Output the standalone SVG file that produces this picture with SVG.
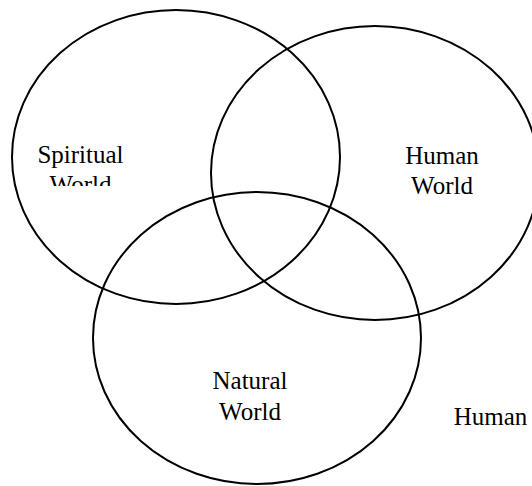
<svg xmlns="http://www.w3.org/2000/svg" width="532" height="486" viewBox="0 0 532 486">
<style>
.c{fill:none;stroke:#000;stroke-width:2}
.t{font-family:"Liberation Serif","Times New Roman",serif;font-size:25px;fill:#000;text-anchor:middle}
</style>
<defs>
<clipPath id="clipSp"><rect x="0" y="0" width="532" height="186"/></clipPath>
</defs>
<rect width="532" height="486" fill="#fff"/>
<g id="spiritual">
<ellipse class="c" cx="176" cy="157" rx="164" ry="147"/>
<text class="t" x="80.5" y="163">Spiritual</text>
<text class="t" x="80.5" y="193" clip-path="url(#clipSp)">World</text>
</g>
<g id="human">
<ellipse class="c" cx="375" cy="173" rx="164" ry="147"/>
<text class="t" x="442" y="164">Human</text>
<text class="t" x="442" y="194">World</text>
</g>
<g id="natural">
<ellipse class="c" cx="257" cy="338" rx="164" ry="146"/>
<text class="t" x="250" y="389">Natural</text>
<text class="t" x="250" y="420">World</text>
</g>
<g id="connectors"></g>
<text class="t" x="490.5" y="425">Human</text>
</svg>
